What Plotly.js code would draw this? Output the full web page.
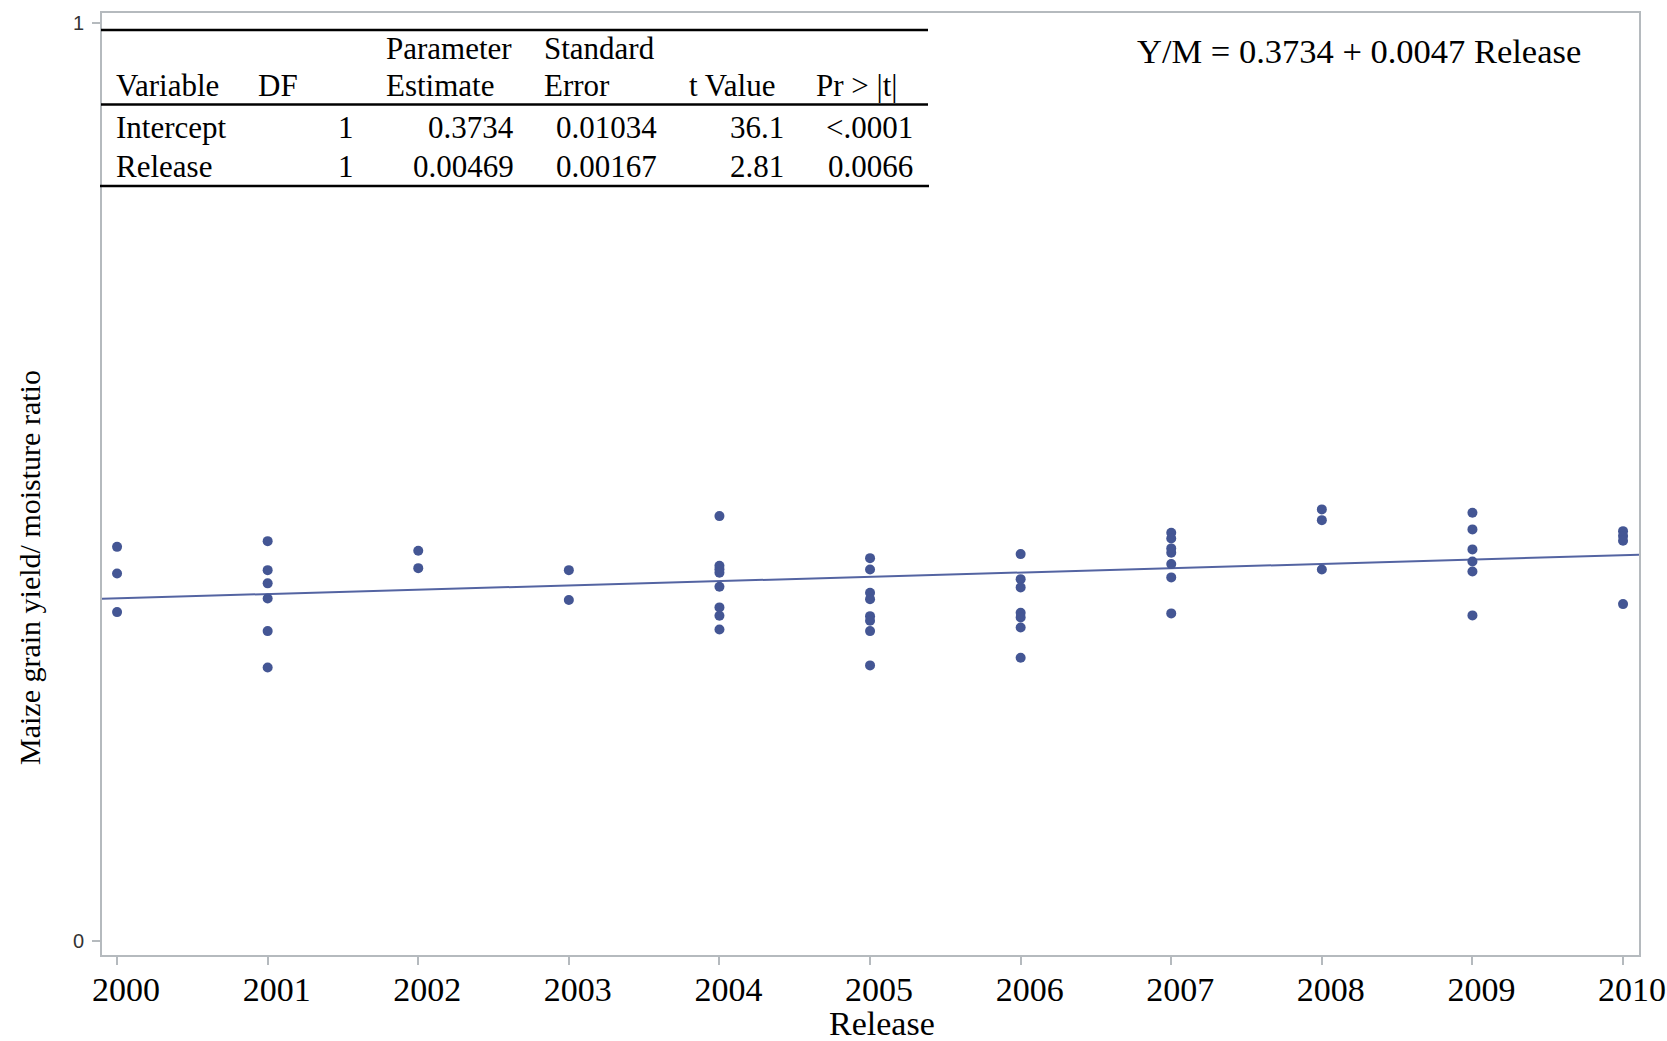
<!DOCTYPE html>
<html>
<head>
<meta charset="utf-8">
<script src="https://cdn.plot.ly/plotly-3.0.1.min.js"></script>
<style>
  html, body { margin: 0; padding: 0; background: #ffffff; }
  #chart { width: 1667px; height: 1041px; }
</style>
</head>
<body>
<div id="chart"></div>
<script>
// ---------------- DATA ----------------
const releaseYears = [2000, 2001, 2002, 2003, 2004, 2005, 2006, 2007, 2008, 2009, 2010];
const releaseTickLabels = ["2000", "2001", "2002", "2003", "2004", "2005", "2006", "2007", "2008", "2009", "2010"];

// each observation: release year and grain yield / moisture ratio
const pointRelease = [
  2000, 2000, 2000,
  2001, 2001, 2001, 2001, 2001, 2001,
  2002, 2002,
  2003, 2003,
  2004, 2004, 2004, 2004, 2004, 2004, 2004, 2004,
  2005, 2005, 2005, 2005, 2005, 2005, 2005, 2005,
  2006, 2006, 2006, 2006, 2006, 2006, 2006,
  2007, 2007, 2007, 2007, 2007, 2007, 2007,
  2008, 2008, 2008,
  2009, 2009, 2009, 2009, 2009, 2009,
  2010, 2010, 2010, 2010
];
const pointRatio = [
  0.4295, 0.4005, 0.3584,
  0.4357, 0.4041, 0.3897, 0.3733, 0.3377, 0.2981,
  0.4252, 0.4063,
  0.4041, 0.3715,
  0.4630, 0.4088, 0.4052, 0.4012, 0.3860, 0.3635, 0.3544, 0.3395,
  0.4172, 0.4049, 0.3794, 0.3725, 0.3540, 0.3489, 0.3377, 0.3003,
  0.4216, 0.3943, 0.3853, 0.3577, 0.3526, 0.3417, 0.3086,
  0.4448, 0.4386, 0.4278, 0.4230, 0.4107, 0.3962, 0.3570,
  0.4703, 0.4586, 0.4049,
  0.4666, 0.4485, 0.4267, 0.4136, 0.4027, 0.3548,
  0.4466, 0.4412, 0.4361, 0.3671
];

// regression fit
const fitIntercept = 0.3734;
const fitSlope = 0.00469;
const fitBaseYear = 2000;
const equationText = "Y/M = 0.3734 + 0.0047 Release";

// parameter estimates table
const tableHeaderTop = ["", "", "Parameter", "Standard", "", ""];
const tableHeaderBottom = ["Variable", "DF", "Estimate", "Error", "t Value", "Pr &gt; |t|"];
const tableVariable = ["Intercept", "Release"];
const tableDF = ["1", "1"];
const tableEstimate = ["0.3734", "0.00469"];
const tableStdError = ["0.01034", "0.00167"];
const tableTValue = ["36.1", "2.81"];
const tablePValue = ["&lt;.0001", "0.0066"];

// ---------------- LAYOUT HELPERS ----------------
const W = 1667, H = 1041;
const plotL = 102, plotR = 1639, plotT = 13, plotB = 955;
const px = x => (x - plotL) / (plotR - plotL);
const py = y => (plotB - y) / (plotB - plotT);

const xRange = [1999.90, 2010.106];
const yRange = [-0.01525, 1.0112];

const serif = "Liberation Serif, Times New Roman, serif";
const frameColor = "#b5babe";
const markColor = "#445694";

// regression line across plot
const lineX = xRange.slice();
const lineY = lineX.map(x => fitIntercept + fitSlope * (x - fitBaseYear));

const traces = [
  {
    type: "scatter", mode: "lines",
    x: lineX, y: lineY,
    line: { color: "#5464a2", width: 2 },
    hoverinfo: "skip", showlegend: false
  },
  {
    type: "scatter", mode: "markers",
    x: pointRelease, y: pointRatio,
    marker: { color: markColor, size: 10, line: { width: 0 } },
    showlegend: false
  }
];

// table annotations
const annotations = [];
const tfont = { family: serif, size: 31, color: "#000000" };
function addText(text, xPix, yPix, anchor, font) {
  if (!text) return;
  annotations.push({
    text: text, xref: "paper", yref: "paper",
    x: px(xPix), y: py(yPix), xanchor: anchor, yanchor: "middle",
    showarrow: false, font: font || tfont
  });
}
const headerLeft = [114, 256, 384, 542, 687, 814];
const rowTopY = 49, rowHdrY = 85.5, rowY = [127.5, 167];
for (let i = 0; i < 6; i++) {
  addText(tableHeaderTop[i], headerLeft[i], rowTopY, "left");
  addText(tableHeaderBottom[i], headerLeft[i], rowHdrY, "left");
}
for (let r = 0; r < 2; r++) {
  addText(tableVariable[r], 114, rowY[r], "left");
  addText(tableDF[r], 356, rowY[r], "right");
  addText(tableEstimate[r], 516, rowY[r], "right");
  addText(tableStdError[r], 659, rowY[r], "right");
  addText(tableTValue[r], 786, rowY[r], "right");
  addText(tablePValue[r], 915, rowY[r], "right");
}
// equation
addText(equationText, 1359, 51, "center", { family: serif, size: 34.5, color: "#000000" });

// axis titles
annotations.push({
  text: "Release", xref: "paper", yref: "paper",
  x: px(882), y: py(1023), xanchor: "center", yanchor: "middle",
  showarrow: false, font: { family: serif, size: 34, color: "#000000" }
});
annotations.push({
  text: "Maize grain yield/ moisture ratio", xref: "paper", yref: "paper",
  x: px(29), y: py(568), xanchor: "center", yanchor: "middle", textangle: -90,
  showarrow: false, font: { family: serif, size: 30, color: "#000000" }
});

const tableLine = (y, x0, x1) => ({
  type: "line", xref: "paper", yref: "paper",
  x0: px(x0), x1: px(x1), y0: py(y), y1: py(y),
  line: { color: "#000000", width: 2.5 }
});
const shapes = [
  tableLine(30, 101, 928),
  tableLine(104.5, 101, 928),
  tableLine(186, 100, 929)
];

const layout = {
  width: W, height: H,
  margin: { l: plotL, r: W - plotR, t: plotT, b: H - plotB, pad: 0 },
  paper_bgcolor: "#ffffff", plot_bgcolor: "#ffffff",
  showlegend: false,
  xaxis: {
    range: xRange, tickmode: "array", tickvals: releaseYears, ticktext: releaseTickLabels,
    ticks: "outside", ticklen: 8, tickwidth: 2, tickcolor: frameColor,
    showline: true, mirror: true, linecolor: frameColor, linewidth: 2,
    showgrid: false, zeroline: false,
    tickfont: { family: serif, size: 34, color: "#000000" },
    ticklabelshift: 9, ticklabelstandoff: -5
  },
  yaxis: {
    range: yRange, tickmode: "array", tickvals: [0, 1], ticktext: ["0", "1"],
    ticks: "outside", ticklen: 8, tickwidth: 2, tickcolor: frameColor,
    showline: true, mirror: true, linecolor: frameColor, linewidth: 2,
    showgrid: false, zeroline: false,
    tickfont: { family: "Liberation Sans, Arial, sans-serif", size: 20, color: "#333333" },
    ticklabelstandoff: 4
  },
  annotations: annotations,
  shapes: shapes
};

Plotly.newPlot("chart", traces, layout, { displayModeBar: false, staticPlot: true });
</script>
</body>
</html>
